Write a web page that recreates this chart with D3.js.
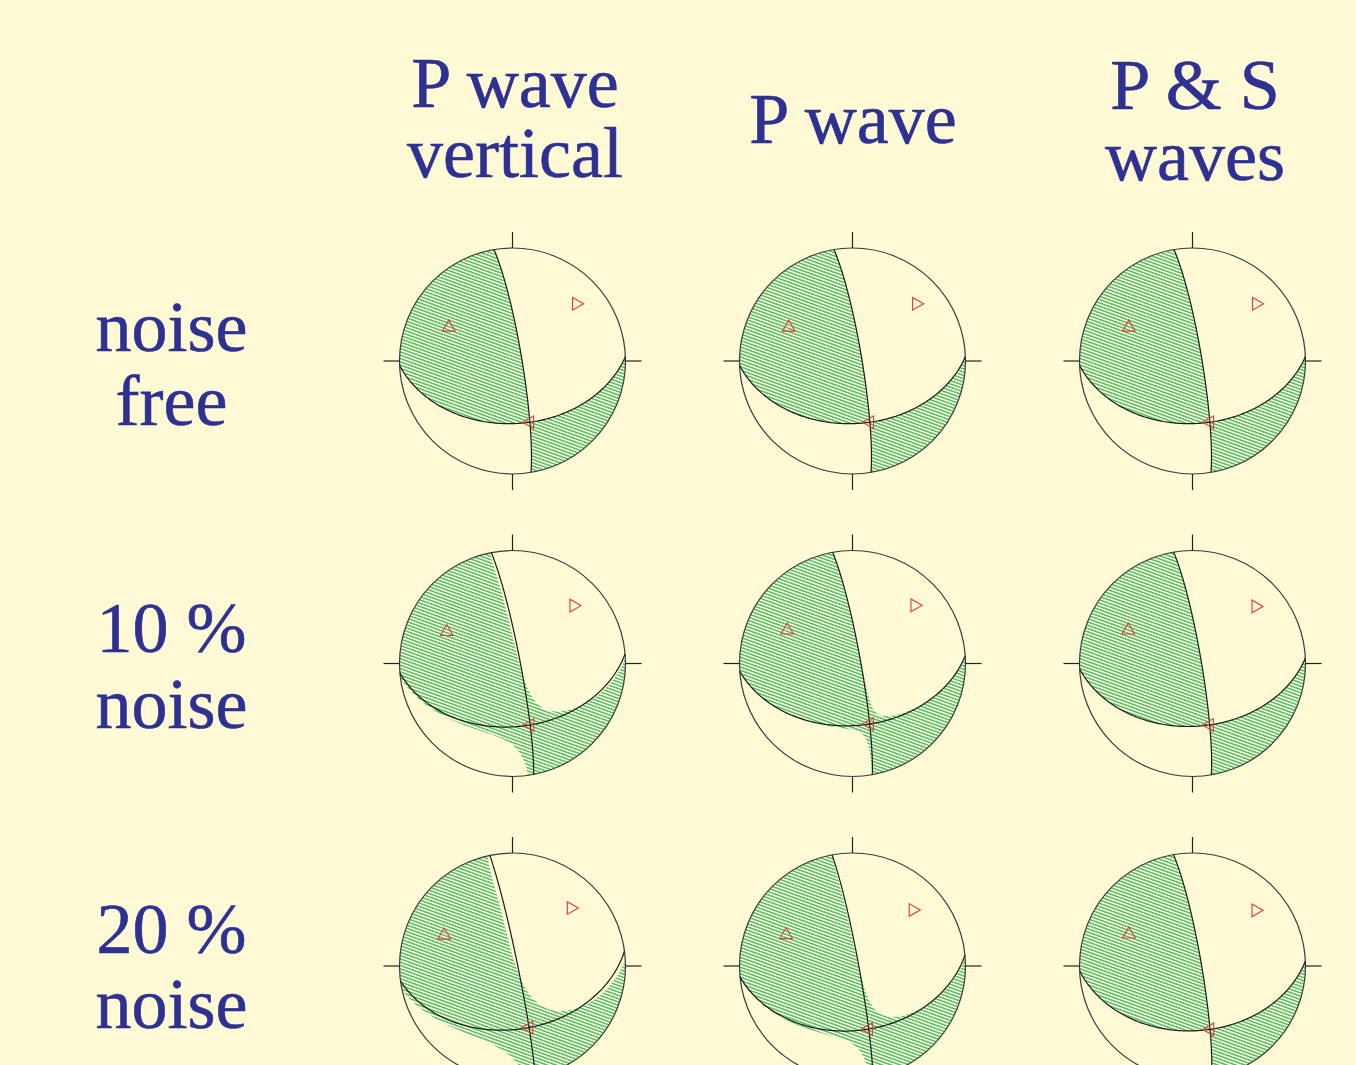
<!DOCTYPE html>
<html>
<head>
<meta charset="utf-8">
<script src="https://cdn.jsdelivr.net/npm/d3@7"></script>
<style>
html, body { margin: 0; padding: 0; background: #fffad5; }
svg { display: block; }
text { font-family: "Liberation Serif", "Times New Roman", serif; fill: #2e3192; stroke: #2e3192; stroke-width: 0.6px; font-size: 72px; }
</style>
</head>
<body>
<svg id="chart" width="1356" height="1065"></svg>
<script>
// Column and row headings
const columnTitles = [["P wave", "vertical"], ["P wave"], ["P & S", "waves"]];
const rowTitles = [["noise", "free"], ["10 %", "noise"], ["20 %", "noise"]];

// Recovered T and P axes (trend, plunge in degrees); rows = noise level, columns = data set
const tTrend  = [[297.1, 297.1, 297.1], [295.0, 296.7, 297.1], [293.5, 295.0, 295.6]];
const tPlunge = [[36.1, 36.1, 36.1], [35.3, 35.35, 36.1], [33.8, 35.3, 36.7]];
const pTrend  = [[48.6, 48.6, 48.6], [47.1, 47.1, 48.1], [45.8, 47.2, 49.35]];
const pPlunge = [[24.8, 24.8, 24.8], [26.0, 25.5, 25.45], [27.6, 27.9, 25.8]];

// Polarity uncertainty: spread of compression around the null axis,
// and offsets of the compressional boundary from each nodal plane
const polaritySpread = [[0, 0, 0], [0.10, 0.025, 0], [0.17, 0.07, 0]];
const plane1Offset   = [[0, 0, 0], [-0.03, 0, 0], [-0.05, -0.015, 0]];
const plane2Offset   = [[0, 0, 0], [0.03, 0, 0], [0.055, 0.015, 0]];

const W = 1356, H = 1065;
const R = 113, TICK = 16;
const svg = d3.select("#chart");
svg.append("rect").attr("width", W).attr("height", H).attr("fill", "#fffad5");

const defs = svg.append("defs");
const hatch = defs.append("pattern")
  .attr("id", "hatch")
  .attr("patternUnits", "userSpaceOnUse")
  .attr("width", 12).attr("height", 3.1)
  .attr("patternTransform", "rotate(20)");
hatch.append("line")
  .attr("x1", 0).attr("x2", 12).attr("y1", 1.55).attr("y2", 1.55)
  .attr("stroke", "#3dba62").attr("stroke-width", 1.35);

const colX = d3.scaleLinear().domain([0, 2]).range([512.5, 1192.5]);
const rowY = d3.scaleLinear().domain([0, 2]).range([361, 966]);

// ---- vector helpers (east, north, down) ----
const rad = d => d * Math.PI / 180;
const axisVec = (tr, pl) => [Math.sin(rad(tr)) * Math.cos(rad(pl)), Math.cos(rad(tr)) * Math.cos(rad(pl)), Math.sin(rad(pl))];
const dot = (a, b) => a[0] * b[0] + a[1] * b[1] + a[2] * b[2];
const cross = (a, b) => [a[1] * b[2] - a[2] * b[1], a[2] * b[0] - a[0] * b[2], a[0] * b[1] - a[1] * b[0]];
const comb = (a, ka, b, kb) => [ka * a[0] + kb * b[0], ka * a[1] + kb * b[1], ka * a[2] + kb * b[2]];
const unit = a => { const l = Math.hypot(a[0], a[1], a[2]); return a.map(x => x / l); };

// Lower-hemisphere equal-area (Schmidt) projection, unit radius
function project(v) {
  if (v[2] < 0) v = v.map(x => -x);
  const th = Math.acos(Math.min(1, v[2]));
  const rho = Math.SQRT2 * Math.sin(th / 2);
  const h = Math.hypot(v[0], v[1]);
  if (h < 1e-12) return [0, 0];
  return [rho * v[0] / h, rho * v[1] / h];
}
function unproject(u, w) {
  const rho = Math.hypot(u, w);
  if (rho < 1e-12) return [0, 0, 1];
  const th = 2 * Math.asin(Math.min(rho, 1) / Math.SQRT2);
  return [Math.sin(th) * u / rho, Math.sin(th) * w / rho, Math.cos(th)];
}
function greatCircle(n) {
  const s = unit(cross(n, [0, 0, 1]));
  let d = cross(n, s);
  if (d[2] < 0) d = d.map(x => -x);
  return d3.range(0, 181).map(k => project(comb(s, Math.cos(rad(k)), d, Math.sin(rad(k)))));
}

// ---- headings ----
const colTitleLayout = [{ x: 515, y: [106.7, 176.7] }, { x: 853, y: [143.3] }, { x: 1195, y: [109.3, 180] }];
columnTitles.forEach((lines, c) => {
  lines.forEach((s, k) => svg.append("text").attr("text-anchor", "middle")
    .attr("x", colTitleLayout[c].x).attr("y", colTitleLayout[c].y[k]).text(s));
});
const rowTitleY = [[350.7, 425], [651.7, 728.3], [953.3, 1028.3]];
rowTitles.forEach((lines, r) => {
  lines.forEach((s, k) => svg.append("text").attr("text-anchor", "middle")
    .attr("x", 171.5).attr("y", rowTitleY[r][k]).text(s));
});

// ---- beach balls ----
const N = 240, L = 1.02;
const marker = d3.symbol().type(d3.symbolTriangle).size(70);

for (let r = 0; r < 3; r++) {
  for (let c = 0; c < 3; c++) {
    const cx = colX(c), cy = rowY(r);
    const xs = d3.scaleLinear().domain([-1, 1]).range([cx - R, cx + R]);
    const ys = d3.scaleLinear().domain([-1, 1]).range([cy + R, cy - R]);

    // orthogonalised principal axes and nodal-plane normals
    const t0 = axisVec(tTrend[r][c], tPlunge[r][c]);
    const p0 = axisVec(pTrend[r][c], pPlunge[r][c]);
    const cp = dot(t0, p0);
    const t = unit(comb(t0, 1, p0, -cp / 2));
    const p = unit(comb(p0, 1, t0, -cp / 2));
    const b = unit(cross(t, p));
    const n1 = unit(comb(t, 1, p, -1));
    const n2 = unit(comb(t, 1, p, 1));
    const eps = polaritySpread[r][c], lam = plane1Offset[r][c], kap = plane2Offset[r][c];

    const g = svg.append("g");
    const clipId = `clip-${r}-${c}`;
    defs.append("clipPath").attr("id", clipId)
      .append("circle").attr("cx", cx).attr("cy", cy).attr("r", R);

    // compressional first-motion area on a grid
    const vals = new Float64Array(N * N);
    for (let j = 0; j < N; j++) {
      const w = L - (j + 0.5) * 2 * L / N;
      for (let i = 0; i < N; i++) {
        const u = -L + (i + 0.5) * 2 * L / N;
        const v = unproject(u, w);
        const nb = dot(v, b);
        vals[j * N + i] = 2 * (dot(v, n1) + lam) * (dot(v, n2) + kap) + eps * nb * nb * nb * nb;
      }
    }
    const area = d3.contours().size([N, N]).thresholds([0])(vals)[0];
    const gridProj = d3.geoTransform({
      point(x, y) { this.stream.point(xs(-L + x * 2 * L / N), ys(L - y * 2 * L / N)); }
    });
    g.append("path")
      .attr("d", d3.geoPath(gridProj)(area))
      .attr("fill", "url(#hatch)")
      .attr("fill-rule", "evenodd")
      .attr("clip-path", `url(#${clipId})`);

    // outline and ticks
    g.append("circle").attr("cx", cx).attr("cy", cy).attr("r", R)
      .attr("fill", "none").attr("stroke", "#3a3a3a").attr("stroke-width", 1.2);
    const ticks = [[0, 1, 0, 1 + TICK / R], [0, -1, 0, -1 - TICK / R], [1, 0, 1 + TICK / R, 0], [-1, 0, -1 - TICK / R, 0]];
    g.selectAll("line.tick").data(ticks).join("line")
      .attr("x1", d => xs(d[0])).attr("y1", d => ys(d[1]))
      .attr("x2", d => xs(d[2])).attr("y2", d => ys(d[3]))
      .attr("stroke", "#222").attr("stroke-width", 1.2);

    // nodal planes
    const line = d3.line().x(d => xs(d[0])).y(d => ys(d[1]));
    [n1, n2].forEach(n => {
      g.append("path").attr("d", line(greatCircle(n)))
        .attr("fill", "none").attr("stroke", "#1a1a1a").attr("stroke-width", 1.2);
    });

    // T, P and null axes
    const axes = [{ v: t, rot: 0 }, { v: p, rot: 90 }, { v: b, rot: -90 }];
    axes.forEach(a => {
      const pt = project(a.v);
      g.append("path").attr("d", marker())
        .attr("transform", `translate(${xs(pt[0])},${ys(pt[1])}) rotate(${a.rot})`)
        .attr("fill", "none").attr("stroke", "#e5383b").attr("stroke-width", 1.1);
    });
  }
}
</script>
</body>
</html>
